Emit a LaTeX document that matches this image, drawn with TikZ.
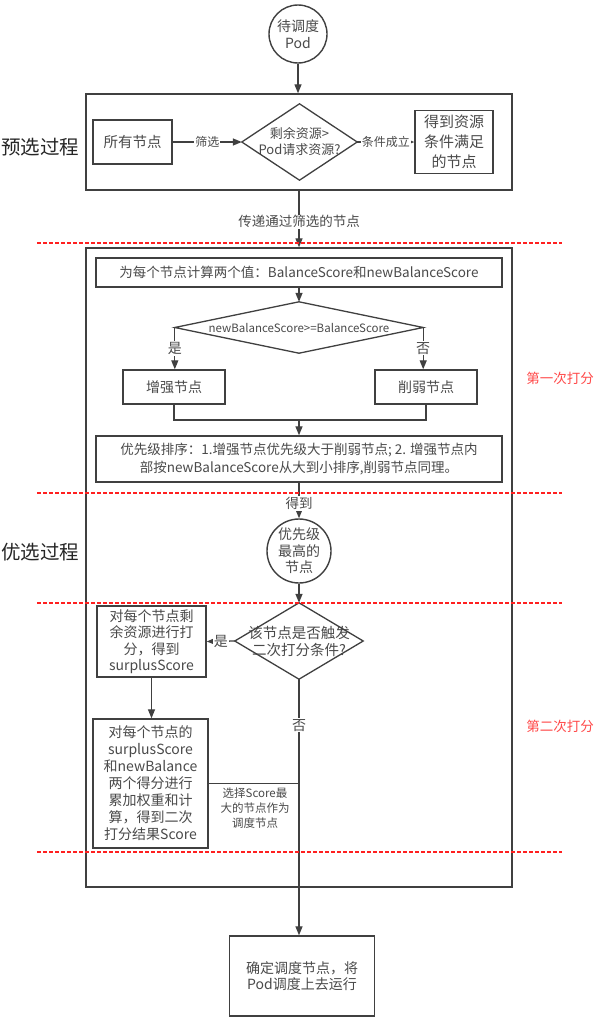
\documentclass[tikz,border=0pt]{standalone}
\usepackage{fontspec}
\newfontfamily\cjk{Noto Sans CJK SC}
\usetikzlibrary{arrows.meta}
\definecolor{lc}{HTML}{404040}
\definecolor{tc}{HTML}{4A4A4A}
\definecolor{rc}{HTML}{FF2020}
\definecolor{rt}{HTML}{FF4A4A}
\newcommand\myfs[2]{\fontsize{#1}{#2}\selectfont}
\begin{document}
\begin{tikzpicture}[x=1pt,y=-1pt,
  every node/.style={font=\cjk, text=tc},
  frame/.style={draw=lc, line width=1.4pt, rectangle, inner sep=0pt, align=center},
  conn/.style={draw=lc, line width=1.3pt},
  arr/.style={conn, -{Triangle[length=9pt,width=7pt]}},
  lbl/.style={fill=white, inner sep=1pt, font=\cjk\myfs{12}{14}},
  redline/.style={draw=rc, line width=1.2pt, dash pattern=on 4pt off 2pt},
  redtxt/.style={text=rt, font=\cjk\myfs{13.5}{16}},
  bigtxt/.style={font=\cjk\myfs{19.5}{22}, text=black!85},
]
\fill[white] (0,0) rectangle (598,1017);
\useasboundingbox (0,0) rectangle (598,1017);

% ---- pre-selection ----
\node[frame, circle, minimum size=58pt, font=\cjk\myfs{14}{17}] (pod) at (298,34) {待调度\\Pod};
\node[frame, minimum width=426pt, minimum height=96pt] (pre) at (299,142) {};
\node[frame, minimum width=79pt, minimum height=44pt, font=\cjk\myfs{14.5}{17}] (all) at (132.5,142) {所有节点};
\node[inner sep=0pt, minimum width=115pt, minimum height=76pt, align=center, font=\cjk\myfs{13}{16}] (d1) at (299.5,142) {剩余资源>\\Pod请求资源?};
\draw[conn] (d1.north) -- (d1.east) -- (d1.south) -- (d1.west) -- cycle;
\node[frame, minimum width=78pt, minimum height=63pt, font=\cjk\myfs{15}{20}] (res) at (454,142) {得到资源\\条件满足\\的节点};

\draw[arr] (pod.south) -- (pod.south |- pre.north);
\draw[arr] (all.east) -- (d1.west) node[lbl, midway] {筛选};
\draw[arr] (d1.east) -- (res.west) node[lbl, midway] {条件成立};

\node[bigtxt] (l1) at (40.5,147) {预选过程};

% ---- optimisation ----
\node[frame, minimum width=426pt, minimum height=639pt] (opt) at (299,567.5) {};
\draw[arr] (pre.south) -- (opt.north) node[lbl, pos=0.55, font=\cjk\myfs{13.5}{16}] {传递通过筛选的节点};

\node[frame, minimum width=406pt, minimum height=29pt, font=\cjk\myfs{13.5}{16}] (bal) at (299,272.5) {为每个节点计算两个值：BalanceScore和newBalanceScore};
\node[inner sep=0pt, minimum width=248pt, minimum height=51pt, font=\cjk\myfs{11.5}{14}] (d2) at (299,327.5) {newBalanceScore>=BalanceScore};
\draw[conn] (d2.north) -- (d2.east) -- (d2.south) -- (d2.west) -- cycle;
\node[frame, minimum width=102pt, minimum height=34pt, font=\cjk\myfs{14}{17}] (zeng) at (174,387) {增强节点};
\node[frame, minimum width=102pt, minimum height=34pt, font=\cjk\myfs{14}{17}] (xue) at (426,387) {削弱节点};
\node[frame, minimum width=406pt, minimum height=46pt, font=\cjk\myfs{13.5}{17.5}] (prio) at (299,459) {优先级排序：1.增强节点优先级大于削弱节点; 2. 增强节点内\\部按newBalanceScore从大到小排序,削弱节点同理。};

\draw[arr] (bal.south) -- (d2.north);
\draw[arr] (d2.west) -- (d2.west |- zeng.north) node[lbl, midway, font=\cjk\myfs{14}{16}] {是};
\draw[arr] (d2.east) -- (d2.east |- xue.north) node[lbl, midway, font=\cjk\myfs{14}{16}] {否};
\coordinate (j1) at (299,420);
\draw[conn] (zeng.south) |- (j1) -| (xue.south);
\draw[arr] (j1) -- (j1 |- prio.north);

\node[frame, circle, minimum size=64pt, font=\cjk\myfs{14}{16.5}] (best) at (299,551) {优先级\\最高的\\节点};
\draw[arr] (prio.south) -- (best.north) node[lbl, pos=0.58, font=\cjk\myfs{13.5}{15}] {得到};

\node[inner sep=0pt, minimum width=128pt, minimum height=76pt, align=center, font=\cjk\myfs{14.5}{17}] (d3) at (299,641) {该节点是否触发\\二次打分条件?};
\draw[conn] (d3.north) -- (d3.east) -- (d3.south) -- (d3.west) -- cycle;
\draw[arr] (best.south) -- (d3.north);

\node[frame, minimum width=109pt, minimum height=71pt, font=\cjk\myfs{14}{16.5}] (s1) at (151.5,641.5) {对每个节点剩\\余资源进行打\\分，得到\\surplusScore};
\node[frame, minimum width=115pt, minimum height=129pt, font=\cjk\myfs{14}{17}] (s2) at (150.5,783.5) {对每个节点的\\surplusScore\\和newBalance\\两个得分进行\\累加权重和计\\算，得到二次\\打分结果Score};
\node[frame, minimum width=145pt, minimum height=80pt, font=\cjk\myfs{14}{16.5}] (fin) at (302,976) {确定调度节点，将\\Pod调度上去运行};

\draw[arr] (d3.west) -- (s1.east) node[lbl, midway, font=\cjk\myfs{14}{16}] {是};
\draw[arr] (s1.south) -- (s1.south |- s2.north);
\draw[arr] (d3.south) -- (d3.south |- fin.north) node[lbl, pos=0.18, font=\cjk\myfs{14}{16}] {否};
\draw[conn] (s2.east) -- (s2.east -| d3.south);
\node[align=center, inner sep=0pt, font=\cjk\myfs{11.5}{15}] (sel) at (255,808) {选择Score最\\大的节点作为\\调度节点};

\node[bigtxt] (l2) at (40.5,552) {优选过程};

% ---- red separators ----
\draw[redline] (37,243) -- (562,243);
\draw[redline] (37,493) -- (562,493);
\draw[redline] (37,603) -- (562,603);
\draw[redline] (37,852) -- (562,852);
\node[redtxt] (t1) at (560,378) {第一次打分};
\node[redtxt] (t2) at (560,726) {第二次打分};
\end{tikzpicture}
\end{document}
